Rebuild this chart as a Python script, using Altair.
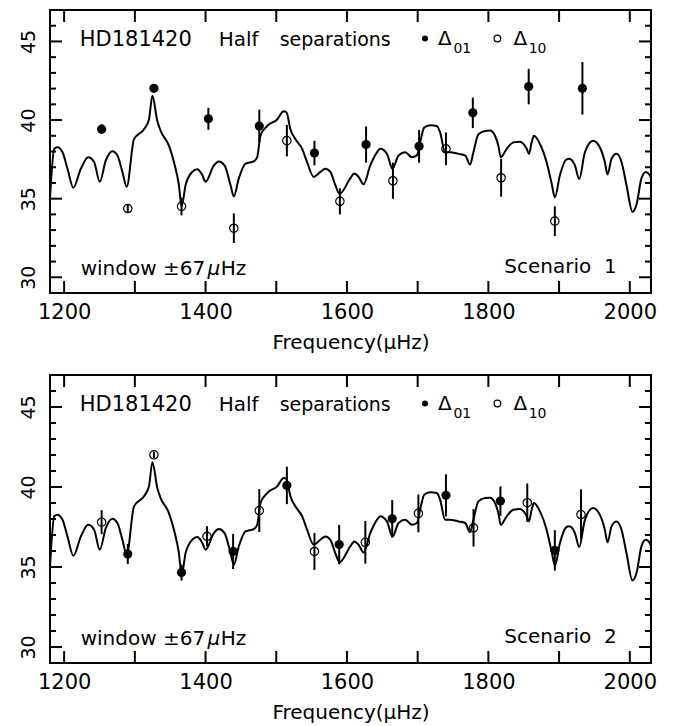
import altair as alt
import pandas as pd

# ---------------- data ----------------
curve_freq = [1180, 1186, 1190.7, 1197.7, 1204.8, 1213, 1223.6, 1234, 1242.4, 1250.4,
              1258.9, 1268.3, 1275.4, 1282.4, 1288.5, 1298.8, 1313, 1320, 1324.8, 1331.8,
              1336.5, 1348.2, 1355.3, 1362.3, 1366.1, 1371.8, 1381.2, 1388.3, 1395.4, 1400,
              1411.8, 1418.8, 1426.9, 1435.3, 1440, 1447, 1456.5, 1468.2, 1473, 1477.7,
              1487.1, 1501.2, 1510.6, 1514.4, 1520, 1527, 1536.6, 1543.6, 1553, 1562.4,
              1569.4, 1576.5, 1583.5, 1589.5, 1604.7, 1610.3, 1616.4, 1623.5, 1633, 1642.4,
              1647, 1656.5, 1664.4, 1673, 1682.4, 1691.8, 1698.9, 1704.5, 1709.2, 1717.6,
              1727, 1731.8, 1738.8, 1745.9, 1757.6, 1767.1, 1774.1, 1778.8, 1785.9, 1795.3,
              1802.4, 1809.4, 1814.1, 1817.5, 1825.9, 1835.3, 1844.7, 1854.2, 1857.4, 1861.2,
              1864.4, 1872.9, 1882.3, 1889.4, 1894.1, 1901.2, 1910.6, 1914.3, 1922.4, 1928.5,
              1936.5, 1948.2, 1957.6, 1964.7, 1968.5, 1974.2, 1981.2, 1988.3, 1995.3, 2003.8,
              2009.5, 2016.5, 2022.6, 2028.2, 2030]
curve_val = [35.04, 38.17, 38.27, 37.95, 36.9, 35.7, 36.9, 37.64, 37.33, 36.08,
             37.43, 38.02, 37.75, 36.7, 35.76, 38.79, 39.42, 40.04, 41.55, 39.94,
             39.31, 38.37, 37.33, 35.87, 34.51, 35.87, 36.7, 36.87, 36.5, 36.08,
             37.12, 37.37, 37.12, 35.87, 35.14, 36.29, 37.23, 37.37, 37.64, 39.0,
             39.62, 40.04, 40.56, 40.5, 39.42, 38.79, 38.17, 37.33, 36.39, 36.7,
             36.91, 36.7, 35.87, 35.3, 36.29, 36.6, 36.39, 35.91, 37.12, 37.95,
             38.17, 37.85, 36.91, 37.75, 37.95, 37.64, 37.75, 38.79, 39.52, 39.67,
             39.62, 39.2, 37.95, 37.95, 37.85, 37.75, 37.17, 37.95, 39.1, 39.31,
             39.33, 39.0, 38.37, 37.64, 38.17, 38.58, 38.62, 38.17, 37.85, 38.58,
             39.0, 38.48, 37.33, 35.98, 35.08, 36.5, 37.5, 37.54, 37.12, 36.25,
             37.95, 38.69, 38.27, 37.33, 36.54, 37.54, 37.85, 37.33, 35.87, 34.16,
             34.62, 36.29, 36.7, 36.5, 36.3]

# Scenario 1
s1_d01_freq = [1253, 1327, 1404, 1476, 1554, 1627, 1702, 1778, 1857, 1933]
s1_d01_val = [39.42, 42.02, 40.08, 39.62, 37.9, 38.44, 38.33, 40.46, 42.13, 42.02]
s1_d01_err = [0.3, 0.25, 0.7, 1.04, 0.78, 1.15, 1.04, 0.97, 1.13, 1.67]
s1_d10_freq = [1290, 1366, 1440, 1515, 1590, 1665, 1740, 1818, 1894]
s1_d10_val = [34.37, 34.51, 33.12, 38.69, 34.83, 36.14, 38.17, 36.33, 33.57]
s1_d10_err = [0.25, 0.57, 0.94, 1.0, 0.83, 1.15, 1.04, 1.2, 0.94]

# Scenario 2
s2_d01_freq = [1290, 1366, 1439, 1515, 1589, 1664, 1740, 1817, 1894]
s2_d01_val = [35.81, 34.65, 35.97, 40.1, 36.4, 38.01, 39.48, 39.12, 36.04]
s2_d01_err = [0.63, 0.5, 1.1, 1.17, 1.23, 1.17, 1.31, 0.92, 1.26]
s2_d10_freq = [1253, 1327, 1402, 1476, 1554, 1626, 1701, 1779, 1855, 1931]
s2_d10_val = [37.8, 42.01, 36.92, 38.53, 35.97, 36.54, 38.35, 37.45, 39.02, 38.28]
s2_d10_err = [0.75, 0.2, 0.63, 1.34, 1.15, 1.33, 1.18, 1.17, 1.2, 1.57]

x_ticks = [1200, 1300, 1400, 1500, 1600, 1700, 1800, 1900, 2000]
x_labels = [1200, 1400, 1600, 1800, 2000]
y_major = [30, 35, 40, 45]
y_minor = [31, 32, 33, 34, 36, 37, 38, 39, 41, 42, 43, 44, 46]

# ---------------- style ----------------
FONT = "DejaVu Sans"
W = 601
x_scale = alt.Scale(domain=[1180, 2030], nice=False, zero=False)
y_scale = alt.Scale(domain=[29, 47], nice=False, zero=False)

x_axis = alt.Axis(values=x_labels, format="d", ticks=False, tickSize=0, domain=False, grid=False,
                  labelFont=FONT, labelFontSize=21, labelPadding=8, labelColor="black",
                  title="Frequency(μHz)", titleFont=FONT, titleFontSize=20,
                  titleFontWeight="normal", titlePadding=10, titleColor="black")
y_axis = alt.Axis(values=y_major, ticks=False, tickSize=0, domain=False, grid=False,
                  labelFont=FONT, labelFontSize=19, labelAngle=270, labelAlign="center",
                  labelBaseline="alphabetic", labelPadding=16, labelColor="black",
                  minExtent=41, maxExtent=41, title=None)


def txt(s, x, y, size=20, align="left", style="normal"):
    return alt.Chart(pd.DataFrame({"label": [s]})).mark_text(
        font=FONT, fontSize=size, align=align, baseline="alphabetic",
        color="black", fontStyle=style).encode(
        x=alt.value(x), y=alt.value(y), text="label:N")


def panel(d01f, d01v, d01e, d10f, d10v, d10e, scen, H):
    curve = pd.DataFrame({"f": curve_freq, "v": curve_val})
    d01 = pd.DataFrame({"f": d01f, "v": d01v,
                        "lo": [a - b for a, b in zip(d01v, d01e)],
                        "hi": [a + b for a, b in zip(d01v, d01e)]})
    d10 = pd.DataFrame({"f": d10f, "v": d10v,
                        "lo": [a - b for a, b in zip(d10v, d10e)],
                        "hi": [a + b for a, b in zip(d10v, d10e)]})
    X = alt.X("f:Q", scale=x_scale, axis=x_axis)
    Y = alt.Y("v:Q", scale=y_scale, axis=y_axis)

    line = alt.Chart(curve).mark_line(color="black", strokeWidth=2, clip=True,
                                      interpolate="monotone").encode(x=X, y=Y)
    err01 = alt.Chart(d01).mark_rule(color="black", strokeWidth=2).encode(
        x=X, y=alt.Y("lo:Q", scale=y_scale, axis=y_axis), y2="hi:Q")
    err10 = alt.Chart(d10).mark_rule(color="black", strokeWidth=2).encode(
        x=X, y=alt.Y("lo:Q", scale=y_scale, axis=y_axis), y2="hi:Q")
    p01 = alt.Chart(d01).mark_point(filled=True, color="black", size=85, opacity=1).encode(x=X, y=Y)
    p10 = alt.Chart(d10).mark_point(filled=False, color="black", size=70, strokeWidth=1.2,
                                    opacity=1).encode(x=X, y=Y)

    xt = pd.DataFrame({"t": x_ticks})
    ymaj = pd.DataFrame({"t": y_major})
    ymin = pd.DataFrame({"t": y_minor})
    XT = alt.X("t:Q", scale=x_scale, axis=x_axis)
    YT = alt.Y("t:Q", scale=y_scale, axis=y_axis)
    tk = dict(color="black", strokeWidth=2)
    ticks = [
        alt.Chart(xt).mark_rule(**tk).encode(x=XT, y=alt.value(0), y2=alt.value(12)),
        alt.Chart(xt).mark_rule(**tk).encode(x=XT, y=alt.value(H), y2=alt.value(H - 12)),
        alt.Chart(ymaj).mark_rule(**tk).encode(y=YT, x=alt.value(0), x2=alt.value(12)),
        alt.Chart(ymaj).mark_rule(**tk).encode(y=YT, x=alt.value(W), x2=alt.value(W - 12)),
        alt.Chart(ymin).mark_rule(**tk).encode(y=YT, x=alt.value(0), x2=alt.value(6)),
        alt.Chart(ymin).mark_rule(**tk).encode(y=YT, x=alt.value(W), x2=alt.value(W - 6)),
    ]

    leg_dot = alt.Chart(pd.DataFrame({"k": ["d01"]})).mark_point(
        filled=True, color="black", size=36, opacity=1).encode(x=alt.value(375), y=alt.value(28.5))
    leg_circ = alt.Chart(pd.DataFrame({"k": ["d10"]})).mark_point(
        filled=False, color="black", size=45, strokeWidth=1.2, opacity=1).encode(
        x=alt.value(447.4), y=alt.value(28.5))

    texts = [
        txt("HD181420", 29.7, 36, size=21),
        txt("Half", 168.7, 36),
        txt("separations", 229.7, 36, size=19),
        txt("Δ", 388, 35),
        txt("01", 403.4, 43, size=14),
        txt("Δ", 463.4, 35),
        txt("10", 478.7, 43, size=14),
        txt("window ±67", 30.7, H - 18.5),
        txt("μ", 157.4, H - 18.5, style="italic"),
        txt("Hz", 170.7, H - 18.5),
        txt("Scenario\u00a0\u00a0" + scen, 566.7, H - 20, align="right"),
    ]

    return alt.layer(line, err01, err10, p01, p10, *ticks, leg_dot, leg_circ, *texts).properties(
        width=W, height=H)


top = panel(s1_d01_freq, s1_d01_val, s1_d01_err, s1_d10_freq, s1_d10_val, s1_d10_err, "1", 283)
bottom = panel(s2_d01_freq, s2_d01_val, s2_d01_err, s2_d10_freq, s2_d10_val, s2_d10_err, "2", 288)

chart = alt.vconcat(top, bottom, spacing=20).properties(
    padding={"left": 0, "top": 0, "right": 0, "bottom": 0},
    background="white",
).configure_view(stroke="black", strokeWidth=2)

chart.save("out.html", embed_options={"renderer": "svg", "actions": False})
